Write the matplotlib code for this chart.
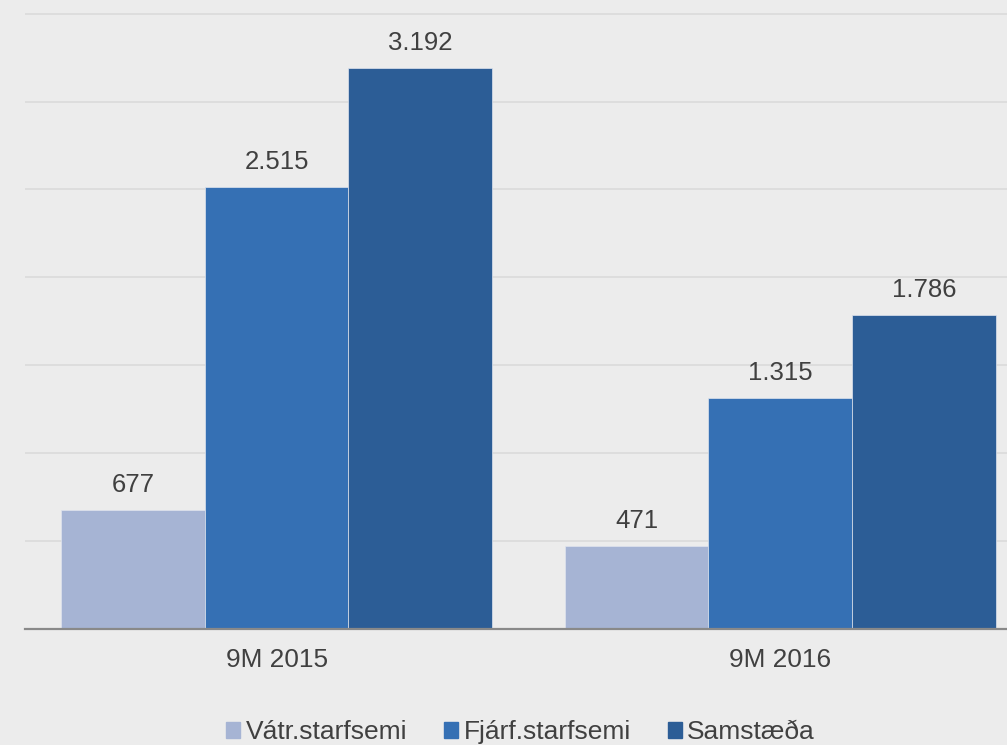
import matplotlib

matplotlib.use("Agg")
from matplotlib import pyplot as plt
from matplotlib.patches import Patch
import numpy as np

periods = ["9M 2015", "9M 2016"]
series = ["Vátr.starfsemi", "Fjárf.starfsemi", "Samstæða"]
vatr = [677, 471]
fjarf = [2515, 1315]
samst = [3192, 1786]

BG, GRID, INK = "#ececec", "#d9d9d9", "#404040"
COLORS = ["#a6b4d4", "#3570b4", "#2c5d96"]

plt.rcParams["font.family"] = ["Liberation Sans", "DejaVu Sans"]

fig = plt.figure(figsize=(10.07, 7.45), dpi=100, facecolor=BG)
ax = fig.add_axes([24.75 / 1007, 1 - 628.7 / 745, 1007.25 / 1007, 628.7 / 745])
ax.set_facecolor(BG)

x = np.arange(len(periods))
w = 0.2854
for i, (vals, col) in enumerate(zip([vatr, fjarf, samst], COLORS)):
    bars = ax.bar(x + (i - 1) * w, vals, width=w, color=col,
                  edgecolor="#dfe4ee", linewidth=0.5, zorder=3)
    for b, v in zip(bars, vals):
        lbl = f"{v:,}".replace(",", ".")
        ax.annotate(lbl, (b.get_x() + b.get_width() / 2, v), xytext=(0, 13),
                    textcoords="offset points", ha="center", va="baseline",
                    fontsize=18.5, color=INK)

ax.set_xlim(-0.5, 1.5)
ax.set_ylim(0, 3578)
ax.set_yticks(np.arange(500, 3501, 500))
ax.yaxis.grid(True, color=GRID, lw=1.1, zorder=0)
ax.tick_params(axis="y", left=False, labelleft=False)
ax.set_xticks(x, periods)
ax.tick_params(axis="x", length=0, pad=14, labelsize=18.9, labelcolor=INK)
for s in ["top", "right", "left"]:
    ax.spines[s].set_visible(False)
ax.spines["bottom"].set_color("#898989")
ax.spines["bottom"].set_linewidth(1.6)
ax.spines["bottom"].set_zorder(4)

handles = [Patch(color=c) for c in COLORS]
fig.legend(handles, series, loc="center", bbox_to_anchor=(520.5 / 1007, 1 - 732 / 745),
           ncol=3, frameon=False, fontsize=19, labelcolor=INK,
           handlelength=0.54, handleheight=0.54, handletextpad=0.2,
           columnspacing=1.4, borderpad=0)

fig.savefig("out.png", dpi=100, facecolor=BG)
